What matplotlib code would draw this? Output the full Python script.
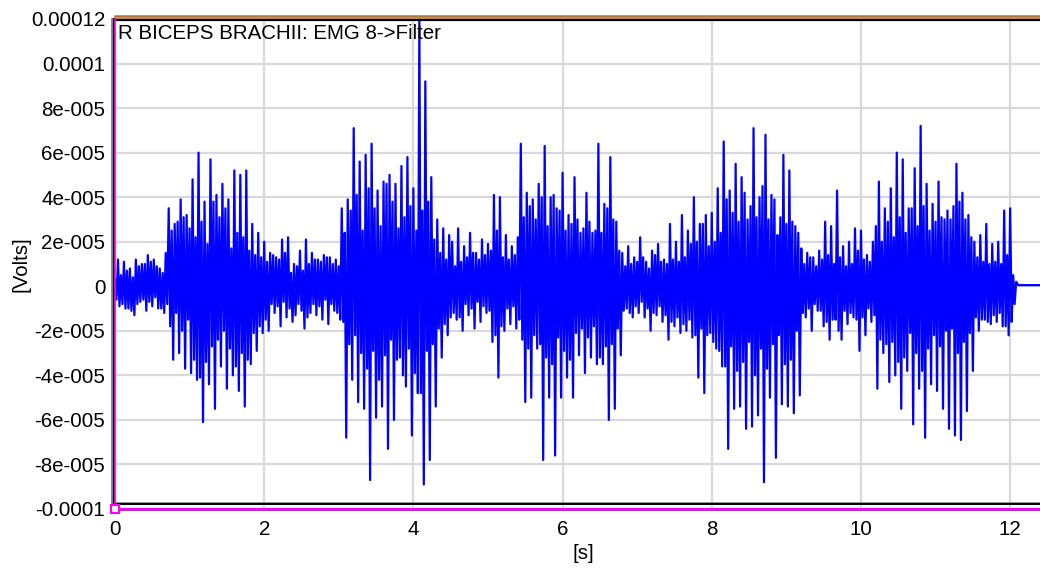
import numpy as np
import matplotlib
matplotlib.use("Agg")
import matplotlib.pyplot as plt

plt.rcParams['font.family'] = ['Liberation Sans', 'DejaVu Sans']

# EMG, units of 1e-5 V.
# main peaks: one every 0.04 s; fill: the smaller opposite swing next to each peak
dt = 0.04
rest_0 = [0.3, 1.2, -0.8, 1.1, -1.0, 0.8, -1.3, 1.2, -0.7, 1.0, -1.1, 1.4, -0.9, 1.2, -1.0, 0.8, -1.2, 1.5]
fill_0 = [0.6, 0.9, 0.5, 1.0, 0.7, 1.1, 0.4, 0.8, 0.9, 0.6, 1.0, 0.7, 1.1, 0.5, 0.9, 1.0, 0.6, 0.8]
burst_1 = [3.5, -3.3, 2.8, -3.0, 3.9, -3.7, 3.2, -3.9, 4.8, -4.2, 6.0, -6.1, 3.8, -4.4, 5.7, -5.5, 4.1, -3.6,
           4.6, -4.6, 3.9, -4.0, 5.2, -4.7, 5.0, -5.4, 5.2, -3.5, 2.8, -2.9, 2.4, -2.1, 2.0]
fill_1 = [1.8, 2.5, 1.2, 2.9, 2.0, 3.1, 1.5, 2.6, 3.3, 2.2, 4.1, 2.9, 3.4, 1.9, 2.7, 3.8, 2.4, 3.1,
          2.0, 3.5, 2.8, 1.7, 3.6, 2.4, 3.0, 2.2, 3.3, 1.6, 2.1, 1.4, 1.8, 1.3, 1.5]
rest_1 = [-2.0, 1.5, -1.2, 1.3, -1.8, 2.1, -1.4, 2.2, -1.6, 1.0, -0.8, 1.6, -1.9, 2.1, -1.2, 1.5, -1.3, 1.2,
          -1.5, 1.4, -1.7, 1.3, -1.1, 1.2, -1.5, 3.5, -6.8]
fill_r1 = [1.1, 0.8, 1.4, 0.9, 1.2, 0.7, 1.5, 1.0, 0.6, 1.3, 0.9, 1.1, 0.7, 1.4, 1.0, 0.8, 1.2, 0.9,
           1.1, 0.6, 1.3, 0.8, 1.0, 1.2, 0.9, 1.6, 2.4]
burst_2 = [3.9, -4.2, 7.1, -5.2, 5.6, -5.5, 5.9, -8.7, 6.4, -5.9, 4.3, -5.4, 4.7, -7.3, 5.0, -6.0, 4.6, -3.2,
           5.4, -4.5, 5.8, -6.7, 4.4, -4.8, 11.9, -8.9, 9.2, -7.8, 4.9, -5.4, 3.0, -3.2, 2.6, -2.2, 2.3]
fill_2 = [2.6, 3.4, 2.2, 4.1, 3.0, 2.5, 3.7, 4.4, 2.9, 3.5, 4.2, 2.7, 3.1, 4.6, 2.4, 3.8, 3.3, 2.6,
          4.0, 3.1, 2.8, 3.6, 3.9, 2.5, 4.8, 3.4, 2.9, 3.8, 2.6, 2.1, 1.9, 1.5, 1.7, 1.2, 1.4]
rest_2 = [2.0, -1.5, 2.6, -2.0, 1.8, -1.3, 2.4, -1.9, 1.5, -1.6, 2.1, -1.2, 1.9, -2.5, 4.1, -4.1, 4.0, -2.0,
          2.3, -1.7, 1.8, -1.9, 2.2]
fill_r2 = [1.2, 0.9, 1.4, 1.1, 0.8, 1.3, 1.0, 1.5, 0.7, 1.2, 0.9, 1.4, 1.1, 1.6, 2.2, 2.5, 1.8, 1.3,
           1.0, 1.2, 0.9, 1.4, 1.5]
burst_3 = [6.4, -5.2, 4.2, -5.0, 3.9, -2.8, 4.6, -7.8, 6.3, -5.0, 4.0, -7.6, 3.5, -5.0, 5.1, -4.1, 3.2, -5.0,
           4.9, -3.1, 2.4, -3.9, 4.2, -3.2, 2.4, -3.5, 6.4, -3.5, 3.7, -6.0, 5.8, -5.5, 2.9, -3.1, 1.5, -1.0,
           1.8, -1.4]
fill_3 = [2.4, 3.1, 2.8, 3.6, 2.2, 3.0, 2.6, 4.0, 3.2, 2.7, 3.5, 4.1, 2.3, 3.4, 2.9, 2.5, 3.3, 2.8,
          2.1, 3.0, 1.9, 2.6, 2.3, 2.9, 1.8, 2.5, 3.2, 2.4, 2.7, 3.5, 2.6, 3.0, 1.9, 1.6, 1.1, 0.9,
          1.2, 1.0]
rest_3 = [1.3, -1.2, 2.2, -1.4, 1.1, -2.0, 1.6, -1.3, 1.9, -1.6, 1.2, -2.4, 2.8, -1.8, 2.0, -2.1, 3.2, -2.0,
          2.5, -2.3, 4.0, -4.1]
fill_r3 = [0.9, 1.1, 0.7, 1.3, 1.0, 0.8, 1.2, 1.4, 0.9, 1.1, 1.3, 1.0, 1.6, 1.2, 1.4, 1.1, 1.7, 1.3,
           1.5, 1.9, 2.2, 2.0]
burst_4 = [2.8, -4.8, 3.2, -2.1, 3.3, -2.8, 4.4, -3.6, 6.5, -7.3, 4.3, -5.5, 5.5, -5.4, 4.9, -6.4, 3.0, -6.3,
           7.1, -5.8, 4.0, -8.8, 6.8, -5.0, 4.1, -7.7, 2.3, -5.3, 5.9, -5.4, 5.2, -5.7, 2.7, -4.9, 1.7, -1.4]
fill_4 = [1.9, 2.8, 2.2, 1.8, 2.5, 2.0, 2.9, 2.4, 3.6, 3.9, 2.7, 3.3, 3.8, 2.9, 3.4, 4.2, 2.5, 3.6,
          4.0, 3.1, 2.8, 4.5, 3.7, 3.0, 2.6, 3.9, 2.2, 3.1, 3.5, 2.8, 3.3, 2.9, 2.0, 2.4, 1.2, 1.0]
rest_4 = [1.5, -2.0, 1.3, -1.1, 1.6, -1.8, 2.9, -2.4, 2.7, -1.5, 4.3, -2.4, 1.8, -1.7, 2.0, -1.4, 2.6, -2.9,
          2.5, -2.2, 1.4, -1.6, 2.0]
fill_r4 = [1.0, 1.3, 0.8, 0.9, 1.1, 1.2, 1.6, 1.4, 1.5, 1.0, 2.0, 1.3, 1.1, 0.9, 1.2, 1.0, 1.5, 1.6,
           1.4, 1.2, 1.0, 1.1, 1.3]
burst_5 = [-4.6, 4.7, -3.0, 3.5, -4.3, 4.4, -4.0, 6.0, -5.5, 5.7, -3.8, 3.5, -6.2, 5.3, -4.6, 7.2, -6.8, 4.6,
           -4.4, 3.7, -4.7, 4.7, -5.5, 3.0, -6.4, 3.0, -6.7, 5.5, -6.9, 4.2, -5.6, 3.2, -3.8, 2.0, -2.0, 2.3,
           -1.5, 2.8, -1.7, 1.9, -1.6, 2.0, -1.8, 3.4, -2.2, 3.5, -0.8]
fill_5 = [2.7, 2.4, 2.0, 2.6, 2.9, 2.5, 2.2, 3.4, 3.1, 3.2, 2.4, 2.1, 3.5, 3.0, 2.7, 3.8, 3.6, 2.8,
          2.5, 2.2, 2.9, 2.7, 3.1, 2.0, 3.4, 1.9, 3.6, 3.0, 3.8, 2.5, 3.0, 2.1, 2.2, 1.4, 1.3, 1.5,
          1.1, 1.6, 1.0, 1.3, 1.1, 1.2, 1.0, 1.8, 1.4, 1.6, 0.5]

peaks = [rest_0, burst_1, rest_1, burst_2, rest_2, burst_3, rest_3, burst_4, rest_4, burst_5]
fills = [fill_0, fill_1, fill_r1, fill_2, fill_r2, fill_3, fill_r3, fill_4, fill_r4, fill_5]
seg_starts = [0.00, 0.72, 2.04, 3.12, 4.52, 5.44, 6.96, 7.84, 9.28, 10.20]
# flat line after the recording stops
tail_t = [12.08, 12.11, 12.45]
tail_v = [0.2, 0.05, 0.05]

y_ticks = [12e-5, 10e-5, 8e-5, 6e-5, 4e-5, 2e-5, 0, -2e-5, -4e-5, -6e-5, -8e-5, -10e-5]
y_labels = ['0.00012', '0.0001', '8e-005', '6e-005', '4e-005', '2e-005', '0',
            '-2e-005', '-4e-005', '-6e-005', '-8e-005', '-0.0001']
x_ticks = [0, 2, 4, 6, 8, 10, 12]

t_all, v_all = [], []
for start, pk, fl in zip(seg_starts, peaks, fills):
    assert len(pk) == len(fl)
    vals = []
    for p, f in zip(pk, fl):
        # keep the sign alternating every half step
        vals += [p, -f] if p >= 0 else [f, p]
    t_all.extend(start + dt / 2 * np.arange(len(vals)))
    v_all.extend(vals)
t_all.extend(tail_t)
v_all.extend(tail_v)
t_all = np.array(t_all)
v_all = np.array(v_all) * 1e-5

fig = plt.figure(figsize=(10.4, 5.7), dpi=100)
ax = fig.add_axes([115 / 1040, 61 / 570, 925 / 1040, 490 / 570])

xmin, xmax = 0, 12.4
ymin, ymax = -1e-4, 1.2e-4
px_x = (xmax - xmin) / 925
px_y = (ymax - ymin) / 490

ax.plot(t_all, v_all, color='#0000FF', lw=1.6, zorder=3)

ax.set_xlim(xmin, xmax)
ax.set_ylim(ymin, ymax)
ax.set_xticks(x_ticks)
ax.set_yticks(y_ticks)
ax.set_yticklabels(y_labels)
ax.grid(True, color='#d9d9d9', lw=1.6, zorder=0)
ax.set_axisbelow(True)
ax.tick_params(axis='both', length=0, labelsize=14.8)
ax.tick_params(axis='x', pad=8)
ax.tick_params(axis='y', pad=7)
for s in ax.spines.values():
    s.set_visible(False)

ax.set_xlabel('[s]', fontsize=14.8)
ax.xaxis.set_label_coords(0.506, -0.072)
ax.set_ylabel('[Volts]', fontsize=14.8, labelpad=0)

# frame lines around the plot area
ax.axhline(ymax + 3.5 * px_y, color='#808080', lw=1.8, clip_on=False, zorder=5)
ax.axhline(ymax + 1.5 * px_y, color='#FF8000', lw=1.3, clip_on=False, zorder=5)
ax.axhline(ymax - 0.5 * px_y, color='black', lw=1.6, clip_on=False, zorder=5)
ax.axhline(ymin + 6 * px_y, color='#808080', lw=1.2, clip_on=False, zorder=5)
ax.axhline(ymin + 5 * px_y, color='black', lw=1.4, clip_on=False, zorder=5)
ax.axhline(ymin, color='#FF00FF', lw=2.2, clip_on=False, zorder=5)
ax.axvline(xmin - 3 * px_x, color='#808080', lw=2.0, clip_on=False, zorder=5)
ax.axvline(xmin - 1.2 * px_x, color='black', lw=1.5, clip_on=False, zorder=5)
ax.axvline(xmin + 0.4 * px_x, color='#FF00FF', lw=1.2, clip_on=False, zorder=5)
ax.plot([0], [ymin], marker='s', ms=6, mfc='white', mec='#FF00FF', mew=1.5,
        clip_on=False, zorder=6)

ax.text(3 / 925, 1 - 5 / 490, 'R BICEPS BRACHII: EMG 8->Filter', transform=ax.transAxes,
        ha='left', va='top', fontsize=14.8, zorder=7)

fig.savefig('out.png', dpi=100)
